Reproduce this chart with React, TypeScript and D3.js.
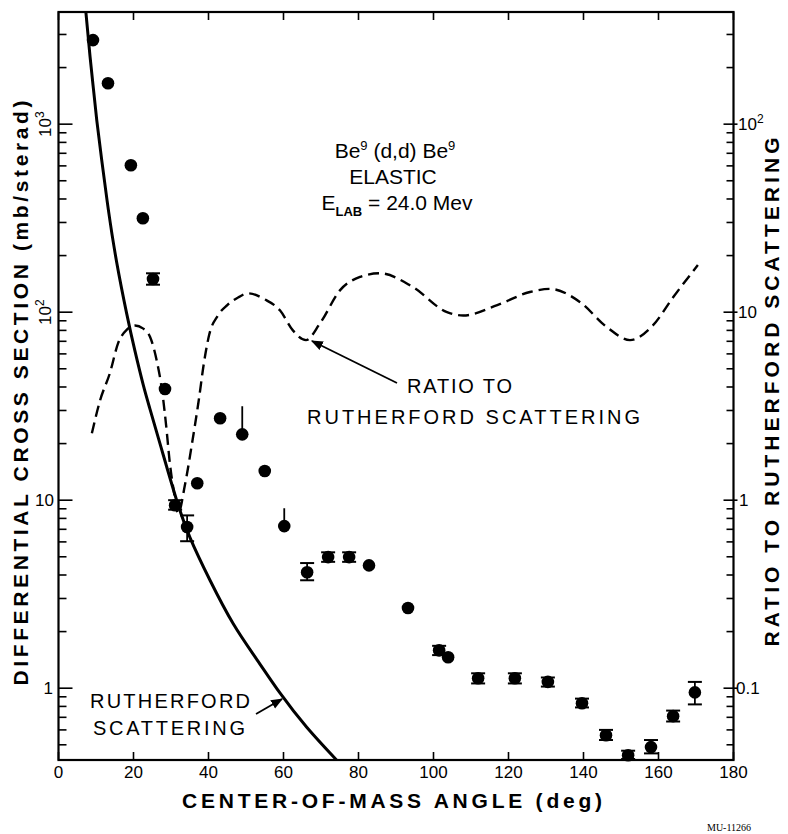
import React from 'react';
import * as d3 from 'd3';

// measured points (deg, mb/sterad)
const theta = [9.2, 13.2, 19.3, 22.5, 25.2, 28.4, 31.1, 34.3, 37.0, 43.1, 49.0, 55.0, 60.2, 66.3, 71.9, 77.5, 82.8, 93.2, 101.5, 103.9, 111.9, 121.7, 130.5, 139.6, 146.0, 151.9, 158.0, 163.9, 169.7];
const sigma = [2800, 1650, 605, 316, 150, 39, 9.4, 7.2, 12.3, 27.3, 22.4, 14.3, 7.28, 4.14, 4.98, 4.98, 4.5, 2.67, 1.59, 1.46, 1.13, 1.13, 1.08, 0.832, 0.562, 0.44, 0.486, 0.71, 0.95];
const errLo = [null, null, null, null, 140, null, 8.9, 6.05, null, null, 22.4, null, 7.28, 3.75, 4.7, 4.7, null, null, 1.5, null, 1.06, 1.06, 1.02, 0.79, 0.53, 0.42, 0.45, 0.665, 0.82];
const errHi = [null, null, null, null, 161, null, 10.0, 8.3, null, null, 31.6, null, 9.06, 4.63, 5.28, 5.28, null, null, 1.68, null, 1.2, 1.2, 1.14, 0.88, 0.6, 0.465, 0.53, 0.76, 1.08];

// Rutherford curve
const rutherTheta = [7.3, 8.4, 9.3, 10.2, 11.5, 13.3, 15.5, 18.2, 20.4, 22.6, 24.4, 27.9, 31.5, 35.1, 40.4, 46.6, 52.9, 59.1, 66.2, 74.2];
const rutherSigma = [3940, 2300, 1550, 1050, 650, 350, 185, 98, 62, 41, 30.5, 17.5, 10.0, 6.3, 3.75, 2.2, 1.42, 0.94, 0.62, 0.414];

// ratio to Rutherford (right axis)
const ratioTheta = [8.9, 11.1, 13.7, 15.9, 18.3, 20.4, 22.5, 24.4, 26.3, 27.6, 28.7, 29.7, 30.8, 31.9, 33.7, 35.6, 37.4, 38.8, 40.2, 42.5, 45, 48, 50.5, 55, 59.1, 62.5, 66, 69.7, 75.1, 80.4, 85.7, 94.5, 103.6, 107.9, 117, 125.7, 131.1, 139.1, 146.3, 152.4, 158.5, 163.9, 170.5];
const ratioVal = [2.27, 3.4, 4.74, 6.84, 8.1, 8.5, 8.2, 7.4, 5.4, 3.85, 2.5, 1.57, 1.1, 0.85, 1.2, 2.0, 3.4, 5.4, 7.6, 9.6, 10.9, 12.0, 12.6, 11.7, 10.2, 8.0, 7.1, 8.7, 13.1, 15.4, 16.1, 13.6, 10.0, 9.6, 10.9, 12.8, 13.3, 11.3, 8.3, 7.1, 8.5, 12.0, 17.8];

const xTicks = [0, 20, 40, 60, 80, 100, 120, 140, 160, 180];

const W = 788, H = 834;
const left = 58.5, right = 733.5, top = 12, bottom = 760;

const sans = 'Liberation Sans, Arial, sans-serif';

export default function App() {
  const x = d3.scaleLinear().domain([0, 180]).range([left, right]);
  const y = d3.scaleLog().domain([0.415, 3950]).range([bottom, top]);
  const yR = d3.scaleLog().domain([0.0415, 395]).range([bottom, top]);

  const rutherPath = d3.line<number>().curve(d3.curveNatural)
    .x((_, i) => x(rutherTheta[i])).y((d) => y(d))(rutherSigma) || '';
  const ratioPath = d3.line<number>().curve(d3.curveMonotoneX)
    .x((_, i) => x(ratioTheta[i])).y((d) => yR(d))(ratioVal) || '';

  // log ticks
  const minor: number[] = [];
  [0.1, 1, 10, 100, 1000].forEach((dec) => {
    for (let k = 1; k < 10; k++) {
      const v = dec * k;
      if (v >= 0.415 && v <= 3950) minor.push(v);
    }
  });
  const isMajor = (v: number) => Math.abs(Math.log10(v) - Math.round(Math.log10(v))) < 1e-6;

  return (
    <svg width={W} height={H} style={{ position: 'absolute', left: 0, top: 0, background: '#fff' }} fontFamily={sans}>
      <defs>
        <clipPath id="plot">
          <rect x={left} y={top} width={right - left} height={bottom - top} />
        </clipPath>
        <marker id="arrow" viewBox="0 0 10 10" refX="9" refY="5" markerWidth="12" markerHeight="12" markerUnits="userSpaceOnUse" orient="auto">
          <path d="M0,1 L10,5 L0,9 Z" fill="#000" />
        </marker>
      </defs>

      {/* frame */}
      <rect x={left} y={top} width={right - left} height={bottom - top} fill="none" stroke="#000" strokeWidth={2.2} />

      {/* x ticks, bottom and top */}
      {xTicks.map((t) => (
        <g key={'xt' + t}>
          <line x1={x(t)} x2={x(t)} y1={bottom} y2={bottom - 8} stroke="#000" strokeWidth={1.6} />
          <line x1={x(t)} x2={x(t)} y1={top} y2={top + 8} stroke="#000" strokeWidth={1.6} />
          <text x={x(t)} y={778} fontSize={17} textAnchor="middle">{t}</text>
        </g>
      ))}

      {/* y ticks left and right */}
      {minor.map((v) => {
        const m = isMajor(v);
        return (
          <g key={'yt' + v}>
            <line x1={left} x2={left + (m ? 14 : 8)} y1={y(v)} y2={y(v)} stroke="#000" strokeWidth={1.6} />
            <line x1={right + (m ? 4 : 0)} x2={right - (m ? 10 : 7)} y1={y(v)} y2={y(v)} stroke="#000" strokeWidth={1.6} />
          </g>
        );
      })}

      {/* left tick labels */}
      <text transform={`translate(51,${y(1000)}) rotate(-90)`} fontSize={17} textAnchor="middle">10<tspan dy={-7} fontSize={12}>3</tspan></text>
      <text transform={`translate(51,${y(100)}) rotate(-90)`} fontSize={17} textAnchor="middle">10<tspan dy={-7} fontSize={12}>2</tspan></text>
      <text x={54} y={y(10)} dy="0.35em" fontSize={17} textAnchor="end">10</text>
      <text x={53} y={y(1)} dy="0.35em" fontSize={17} textAnchor="end">1</text>

      {/* right tick labels */}
      <text x={738} y={yR(100)} dy="0.35em" fontSize={17}>10<tspan dy={-7} fontSize={12}>2</tspan></text>
      <text x={738} y={yR(10)} dy="0.35em" fontSize={17}>10</text>
      <text x={739} y={yR(1)} dy="0.35em" fontSize={17}>1</text>
      <text x={736} y={yR(0.1)} dy="0.35em" fontSize={17}>0.1</text>

      {/* axis titles */}
      <text transform="translate(28,393) rotate(-90)" fontSize={21} fontWeight="bold" textAnchor="middle" textLength={585} lengthAdjust="spacing">
        DIFFERENTIAL CROSS SECTION (mb/sterad)
      </text>
      <text transform="translate(779,392) rotate(-90)" fontSize={21} fontWeight="bold" textAnchor="middle" textLength={509} lengthAdjust="spacing">
        RATIO TO RUTHERFORD SCATTERING
      </text>
      <text x={392} y={808} fontSize={21} fontWeight="bold" textAnchor="middle" textLength={420} lengthAdjust="spacing">
        CENTER-OF-MASS ANGLE (deg)
      </text>

      {/* curves */}
      <g clipPath="url(#plot)">
        <path d={rutherPath} fill="none" stroke="#000" strokeWidth={3} />
        <path d={ratioPath} fill="none" stroke="#000" strokeWidth={2.4} strokeDasharray="11 6" />
      </g>

      {/* data points with error bars */}
      {theta.map((t, i) => {
        const cx = x(t), cy = y(sigma[i]);
        const lo = errLo[i], hi = errHi[i];
        const capped = lo !== null && hi !== null && lo < sigma[i];
        return (
          <g key={'p' + i}>
            {hi !== null && lo !== null && (
              <line x1={cx} x2={cx} y1={y(lo)} y2={y(hi)} stroke="#000" strokeWidth={1.8} />
            )}
            {capped && (
              <>
                <line x1={cx - 7} x2={cx + 7} y1={y(lo as number)} y2={y(lo as number)} stroke="#000" strokeWidth={2} />
                <line x1={cx - 7} x2={cx + 7} y1={y(hi as number)} y2={y(hi as number)} stroke="#000" strokeWidth={2} />
              </>
            )}
            <circle cx={cx} cy={cy} r={6.3} fill="#000" />
          </g>
        );
      })}

      {/* annotations */}
      <text x={395} y={158} fontSize={21} textAnchor="middle">
        Be<tspan dy={-8} fontSize={13}>9</tspan><tspan dy={8}> (d,d) Be</tspan><tspan dy={-8} fontSize={13}>9</tspan>
      </text>
      <text x={393} y={184} fontSize={21} textAnchor="middle">ELASTIC</text>
      <text x={397} y={210} fontSize={21} textAnchor="middle">
        E<tspan dy={6} fontSize={13} fontWeight="bold">LAB</tspan><tspan dy={-6}> = 24.0 Mev</tspan>
      </text>

      <text x={407} y={393} fontSize={20} textLength={105} lengthAdjust="spacing">RATIO  TO</text>
      <text x={307} y={424} fontSize={20} textLength={333} lengthAdjust="spacing">RUTHERFORD  SCATTERING</text>
      <line x1={397} y1={383} x2={312} y2={341} stroke="#000" strokeWidth={1.8} markerEnd="url(#arrow)" />

      <text x={90} y={708} fontSize={20} textLength={160} lengthAdjust="spacing">RUTHERFORD</text>
      <text x={93} y={735} fontSize={20} textLength={152} lengthAdjust="spacing">SCATTERING</text>
      <line x1={256} y1={714} x2={282} y2={699} stroke="#000" strokeWidth={1.8} markerEnd="url(#arrow)" />

      <text x={707} y={831} fontSize={10} fontFamily="Liberation Serif, serif">MU-11266</text>
    </svg>
  );
}
